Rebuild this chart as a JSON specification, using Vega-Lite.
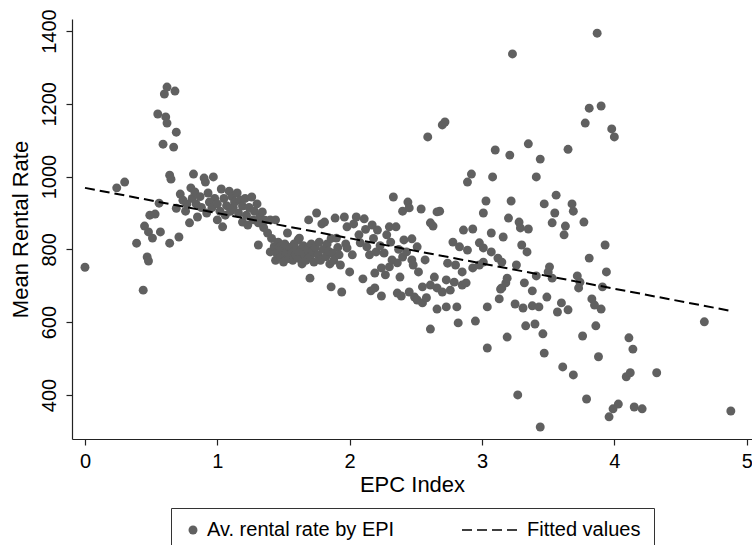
{
  "$schema": "https://vega.github.io/schema/vega-lite/v6.json",
  "width": 680,
  "height": 420,
  "autosize": {"type": "none"},
  "padding": {"left": 72, "top": 19, "right": 0, "bottom": 106},
  "background": "white",
  "config": {
    "view": {"stroke": null},
    "font": "Liberation Sans",
    "axis": {
      "grid": false,
      "domainColor": "#222222",
      "domainWidth": 1.2,
      "tickColor": "#222222",
      "tickWidth": 1.2,
      "tickSize": 6,
      "labelColor": "black",
      "titleColor": "black",
      "labelFont": "Liberation Sans",
      "titleFont": "Liberation Sans",
      "labelFontSize": 20,
      "titleFontSize": 22,
      "titleFontWeight": "normal",
      "labelFlush": false
    }
  },
  "datasets": {
    "points": [
      {"epc":0.00,"rent":751},{"epc":0.24,"rent":969},{"epc":0.30,"rent":985},{"epc":0.39,"rent":817},{"epc":0.44,"rent":688},{"epc":0.45,"rent":864},{"epc":0.47,"rent":779},{"epc":0.48,"rent":768},{"epc":0.48,"rent":848},{"epc":0.49,"rent":894},{"epc":0.51,"rent":831},{"epc":0.53,"rent":897},{"epc":0.55,"rent":1172},{"epc":0.56,"rent":927},{"epc":0.57,"rent":848},{"epc":0.59,"rent":1089},{"epc":0.60,"rent":1227},{"epc":0.61,"rent":1164},{"epc":0.62,"rent":1246},{"epc":0.62,"rent":1147},{"epc":0.64,"rent":1004},{"epc":0.64,"rent":817},{"epc":0.65,"rent":993},{"epc":0.67,"rent":1081},{"epc":0.68,"rent":1235},{"epc":0.69,"rent":1122},{"epc":0.69,"rent":913},{"epc":0.71,"rent":834},{"epc":0.72,"rent":952},{"epc":0.74,"rent":935},{"epc":0.76,"rent":905},{"epc":0.77,"rent":925},{"epc":0.79,"rent":873},{"epc":0.80,"rent":969},{"epc":0.81,"rent":940},{"epc":0.82,"rent":1007},{"epc":0.83,"rent":958},{"epc":0.84,"rent":925},{"epc":0.85,"rent":889},{"epc":0.87,"rent":945},{"epc":0.88,"rent":915},{"epc":0.90,"rent":996},{"epc":0.91,"rent":985},{"epc":0.92,"rent":900},{"epc":0.93,"rent":955},{"epc":0.94,"rent":930},{"epc":0.96,"rent":915},{"epc":0.97,"rent":999},{"epc":0.98,"rent":940},{"epc":1.00,"rent":881},{"epc":1.00,"rent":925},{"epc":1.02,"rent":905},{"epc":1.03,"rent":966},{"epc":1.04,"rent":862},{"epc":1.05,"rent":940},{"epc":1.06,"rent":894},{"epc":1.07,"rent":920},{"epc":1.09,"rent":960},{"epc":1.10,"rent":905},{"epc":1.11,"rent":945},{"epc":1.12,"rent":916},{"epc":1.13,"rent":930},{"epc":1.15,"rent":955},{"epc":1.16,"rent":900},{"epc":1.17,"rent":935},{"epc":1.19,"rent":919},{"epc":1.19,"rent":875},{"epc":1.21,"rent":940},{"epc":1.22,"rent":894},{"epc":1.23,"rent":867},{"epc":1.24,"rent":915},{"epc":1.26,"rent":944},{"epc":1.27,"rent":881},{"epc":1.28,"rent":905},{"epc":1.30,"rent":925},{"epc":1.31,"rent":873},{"epc":1.31,"rent":812},{"epc":1.32,"rent":889},{"epc":1.34,"rent":903},{"epc":1.35,"rent":860},{"epc":1.36,"rent":880},{"epc":1.38,"rent":845},{"epc":1.40,"rent":881},{"epc":1.40,"rent":793},{"epc":1.41,"rent":830},{"epc":1.43,"rent":808},{"epc":1.44,"rent":881},{"epc":1.44,"rent":770},{"epc":1.45,"rent":790},{"epc":1.46,"rent":820},{"epc":1.47,"rent":807},{"epc":1.48,"rent":780},{"epc":1.49,"rent":800},{"epc":1.50,"rent":765},{"epc":1.51,"rent":815},{"epc":1.52,"rent":790},{"epc":1.53,"rent":845},{"epc":1.54,"rent":775},{"epc":1.55,"rent":805},{"epc":1.56,"rent":790},{"epc":1.57,"rent":770},{"epc":1.58,"rent":815},{"epc":1.59,"rent":785},{"epc":1.60,"rent":800},{"epc":1.61,"rent":826},{"epc":1.62,"rent":831},{"epc":1.62,"rent":775},{"epc":1.63,"rent":795},{"epc":1.64,"rent":760},{"epc":1.65,"rent":810},{"epc":1.66,"rent":785},{"epc":1.67,"rent":770},{"epc":1.68,"rent":800},{"epc":1.69,"rent":881},{"epc":1.70,"rent":721},{"epc":1.70,"rent":780},{"epc":1.71,"rent":815},{"epc":1.72,"rent":795},{"epc":1.73,"rent":765},{"epc":1.74,"rent":805},{"epc":1.75,"rent":900},{"epc":1.76,"rent":785},{"epc":1.77,"rent":820},{"epc":1.78,"rent":770},{"epc":1.79,"rent":870},{"epc":1.80,"rent":800},{"epc":1.81,"rent":875},{"epc":1.82,"rent":780},{"epc":1.83,"rent":815},{"epc":1.84,"rent":795},{"epc":1.85,"rent":760},{"epc":1.86,"rent":697},{"epc":1.86,"rent":830},{"epc":1.87,"rent":790},{"epc":1.88,"rent":770},{"epc":1.89,"rent":886},{"epc":1.90,"rent":831},{"epc":1.91,"rent":805},{"epc":1.92,"rent":785},{"epc":1.93,"rent":757},{"epc":1.94,"rent":683},{"epc":1.96,"rent":889},{"epc":1.97,"rent":815},{"epc":1.98,"rent":862},{"epc":1.98,"rent":804},{"epc":2.00,"rent":738},{"epc":2.02,"rent":785},{"epc":2.03,"rent":870},{"epc":2.05,"rent":889},{"epc":2.07,"rent":840},{"epc":2.08,"rent":818},{"epc":2.10,"rent":719},{"epc":2.11,"rent":884},{"epc":2.12,"rent":855},{"epc":2.13,"rent":807},{"epc":2.15,"rent":785},{"epc":2.16,"rent":686},{"epc":2.17,"rent":867},{"epc":2.18,"rent":830},{"epc":2.19,"rent":694},{"epc":2.19,"rent":735},{"epc":2.20,"rent":793},{"epc":2.21,"rent":853},{"epc":2.23,"rent":810},{"epc":2.24,"rent":672},{"epc":2.24,"rent":749},{"epc":2.26,"rent":790},{"epc":2.27,"rent":730},{"epc":2.28,"rent":840},{"epc":2.30,"rent":862},{"epc":2.30,"rent":752},{"epc":2.31,"rent":820},{"epc":2.32,"rent":771},{"epc":2.33,"rent":944},{"epc":2.35,"rent":862},{"epc":2.36,"rent":763},{"epc":2.36,"rent":680},{"epc":2.37,"rent":800},{"epc":2.38,"rent":724},{"epc":2.39,"rent":672},{"epc":2.40,"rent":905},{"epc":2.40,"rent":779},{"epc":2.41,"rent":826},{"epc":2.43,"rent":793},{"epc":2.44,"rent":930},{"epc":2.45,"rent":914},{"epc":2.45,"rent":683},{"epc":2.47,"rent":829},{"epc":2.47,"rent":771},{"epc":2.48,"rent":757},{"epc":2.49,"rent":669},{"epc":2.51,"rent":807},{"epc":2.51,"rent":661},{"epc":2.52,"rent":738},{"epc":2.54,"rent":911},{"epc":2.55,"rent":653},{"epc":2.55,"rent":697},{"epc":2.57,"rent":771},{"epc":2.58,"rent":667},{"epc":2.59,"rent":1109},{"epc":2.61,"rent":702},{"epc":2.61,"rent":873},{"epc":2.61,"rent":581},{"epc":2.63,"rent":864},{"epc":2.64,"rent":724},{"epc":2.66,"rent":903},{"epc":2.66,"rent":636},{"epc":2.66,"rent":694},{"epc":2.68,"rent":905},{"epc":2.70,"rent":683},{"epc":2.70,"rent":1142},{"epc":2.72,"rent":1150},{"epc":2.73,"rent":716},{"epc":2.73,"rent":642},{"epc":2.74,"rent":762},{"epc":2.76,"rent":688},{"epc":2.78,"rent":820},{"epc":2.79,"rent":710},{"epc":2.80,"rent":757},{"epc":2.81,"rent":642},{"epc":2.82,"rent":598},{"epc":2.83,"rent":807},{"epc":2.85,"rent":702},{"epc":2.85,"rent":738},{"epc":2.86,"rent":853},{"epc":2.88,"rent":708},{"epc":2.89,"rent":798},{"epc":2.89,"rent":985},{"epc":2.92,"rent":1007},{"epc":2.93,"rent":856},{"epc":2.93,"rent":749},{"epc":2.95,"rent":603},{"epc":2.98,"rent":757},{"epc":2.98,"rent":818},{"epc":3.01,"rent":900},{"epc":3.01,"rent":765},{"epc":3.01,"rent":804},{"epc":3.03,"rent":933},{"epc":3.04,"rent":642},{"epc":3.04,"rent":529},{"epc":3.07,"rent":845},{"epc":3.07,"rent":793},{"epc":3.08,"rent":999},{"epc":3.10,"rent":1073},{"epc":3.12,"rent":776},{"epc":3.13,"rent":664},{"epc":3.14,"rent":691},{"epc":3.15,"rent":765},{"epc":3.15,"rent":694},{"epc":3.16,"rent":834},{"epc":3.18,"rent":708},{"epc":3.19,"rent":721},{"epc":3.19,"rent":559},{"epc":3.20,"rent":886},{"epc":3.21,"rent":1059},{"epc":3.22,"rent":933},{"epc":3.23,"rent":1337},{"epc":3.25,"rent":650},{"epc":3.26,"rent":757},{"epc":3.27,"rent":400},{"epc":3.28,"rent":875},{"epc":3.29,"rent":859},{"epc":3.30,"rent":812},{"epc":3.31,"rent":639},{"epc":3.32,"rent":708},{"epc":3.33,"rent":590},{"epc":3.34,"rent":793},{"epc":3.35,"rent":856},{"epc":3.35,"rent":1090},{"epc":3.38,"rent":686},{"epc":3.38,"rent":645},{"epc":3.40,"rent":595},{"epc":3.41,"rent":727},{"epc":3.41,"rent":999},{"epc":3.43,"rent":642},{"epc":3.44,"rent":1048},{"epc":3.44,"rent":312},{"epc":3.46,"rent":568},{"epc":3.47,"rent":925},{"epc":3.47,"rent":515},{"epc":3.49,"rent":669},{"epc":3.50,"rent":738},{"epc":3.51,"rent":752},{"epc":3.53,"rent":721},{"epc":3.53,"rent":873},{"epc":3.55,"rent":900},{"epc":3.56,"rent":949},{"epc":3.57,"rent":628},{"epc":3.60,"rent":653},{"epc":3.61,"rent":477},{"epc":3.62,"rent":840},{"epc":3.63,"rent":864},{"epc":3.65,"rent":634},{"epc":3.65,"rent":1075},{"epc":3.68,"rent":925},{"epc":3.69,"rent":905},{"epc":3.69,"rent":455},{"epc":3.72,"rent":727},{"epc":3.73,"rent":694},{"epc":3.74,"rent":710},{"epc":3.76,"rent":562},{"epc":3.77,"rent":875},{"epc":3.78,"rent":1147},{"epc":3.79,"rent":389},{"epc":3.81,"rent":1188},{"epc":3.81,"rent":776},{"epc":3.83,"rent":664},{"epc":3.85,"rent":647},{"epc":3.86,"rent":590},{"epc":3.87,"rent":1394},{"epc":3.88,"rent":505},{"epc":3.90,"rent":1194},{"epc":3.90,"rent":636},{"epc":3.91,"rent":697},{"epc":3.93,"rent":812},{"epc":3.94,"rent":738},{"epc":3.96,"rent":340},{"epc":3.98,"rent":1131},{"epc":3.99,"rent":362},{"epc":4.00,"rent":1109},{"epc":4.03,"rent":375},{"epc":4.09,"rent":450},{"epc":4.11,"rent":557},{"epc":4.12,"rent":461},{"epc":4.14,"rent":526},{"epc":4.15,"rent":367},{"epc":4.21,"rent":362},{"epc":4.32,"rent":461},{"epc":4.68,"rent":601},{"epc":4.88,"rent":356}
    ],
    "fit": [
      {"epc": 0.0, "rent": 969},
      {"epc": 4.88, "rent": 631}
    ]
  },
  "layer": [
    {
      "data": {"name": "points"},
      "mark": {"type": "circle", "size": 80, "opacity": 1},
      "encoding": {
        "x": {
          "field": "epc", "type": "quantitative",
          "scale": {"domain": [-0.098, 5.04], "nice": false, "zero": false},
          "axis": {"values": [0, 1, 2, 3, 4, 5], "title": "EPC Index", "labelPadding": 6, "titlePadding": 3, "format": "d"}
        },
        "y": {
          "field": "rent", "type": "quantitative",
          "scale": {"domain": [279, 1433], "nice": false, "zero": false},
          "axis": {"values": [400, 600, 800, 1000, 1200, 1400], "title": "Mean Rental Rate", "labelAngle": -90, "labelAlign": "center", "labelBaseline": "bottom", "labelPadding": 7, "titlePadding": 7, "format": "d"}
        },
        "color": {
          "datum": "Av. rental rate by EPI",
          "scale": {"domain": ["Av. rental rate by EPI"], "range": ["#606060"]},
          "legend": {
            "title": "\u200b\u00a0\u00a0\u00a0\u00a0\u00a0\u00a0\u00a0\u00a0\u00a0\u00a0\u00a0\u00a0\u00a0\u00a0\u00a0\u00a0\u00a0\u00a0\u00a0\u00a0\u00a0\u00a0\u00a0\u00a0\u00a0\u00a0\u00a0\u00a0\u00a0\u00a0\u00a0\u00a0\u00a0\u00a0\u00a0\u00a0\u00a0\u00a0\u00a0\u00a0\u00a0\u00a0\u00a0\u00a0\u200b",
            "titleOrient": "right",
            "titleFontSize": 20,
            "titleFont": "Liberation Sans",
            "titlePadding": 3,
            "titleLimit": 1000,
            "orient": "none",
            "legendX": 99,
            "legendY": 489,
            "direction": "horizontal",
            "symbolType": "circle",
            "symbolSize": 80,
            "symbolStrokeWidth": 0,
            "labelOffset": 4,
            "labelFontSize": 20,
            "labelColor": "black",
            "labelLimit": 400,
            "labelFont": "Liberation Sans",
            "strokeColor": "#333333",
            "padding": 12
          }
        }
      }
    },
    {
      "data": {"name": "fit"},
      "mark": {"type": "line", "color": "black", "strokeWidth": 2},
      "encoding": {
        "x": {"field": "epc", "type": "quantitative"},
        "y": {"field": "rent", "type": "quantitative"},
        "strokeDash": {
          "datum": "Fitted values",
          "scale": {"domain": ["Fitted values"], "range": [[10, 5]]},
          "legend": {
            "title": null,
            "orient": "none",
            "legendX": 389,
            "legendY": 482,
            "direction": "horizontal",
            "symbolType": "stroke",
            "symbolSize": 3136,
            "symbolStrokeWidth": 1.6,
            "symbolStrokeColor": "black",
            "labelOffset": 8,
            "labelFontSize": 20,
            "labelColor": "black",
            "labelLimit": 400,
            "labelFont": "Liberation Sans",
            "padding": 0
          }
        }
      }
    }
  ]
}
